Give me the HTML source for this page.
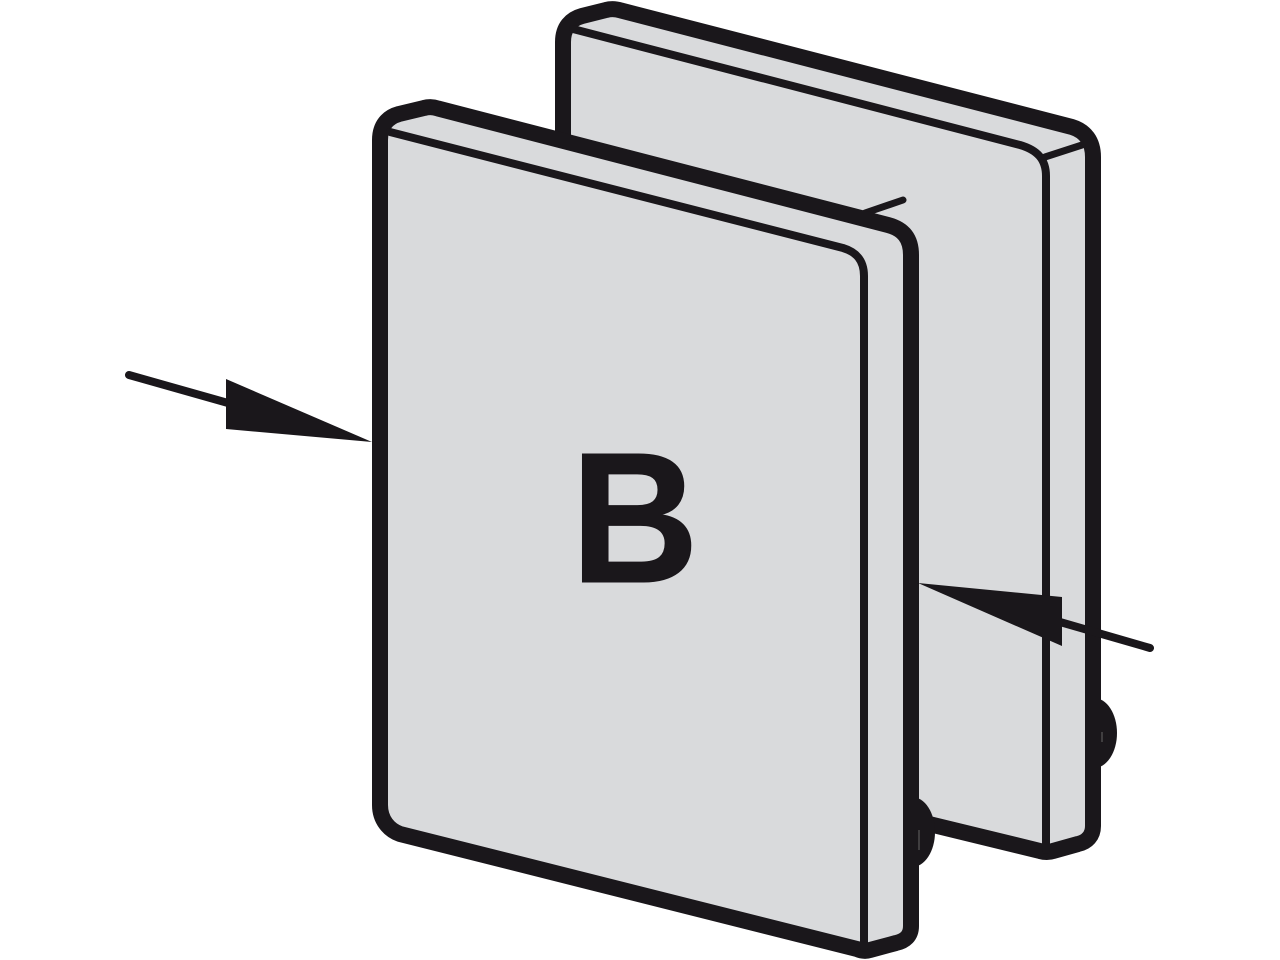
<!DOCTYPE html>
<html>
<head>
<meta charset="utf-8">
<style>
html,body{margin:0;padding:0;background:#fff;width:1280px;height:960px;overflow:hidden}
svg{display:block}
</style>
</head>
<body>
<svg width="1280" height="960" viewBox="0 0 1280 960" xmlns="http://www.w3.org/2000/svg">
<ellipse cx="1094" cy="733" rx="23" ry="35" fill="#1a171b"/>
<g stroke="#1a171b" stroke-linejoin="round" stroke-linecap="round" fill="none">
  <!-- back plate -->
  <path d="M563,42 C563,27 571,19 582,16 L606,10 Q613,8 621,10.500 L1072,127 C1085,131 1093,141 1093,157 L1093,826 C1093,836 1087,842 1078,844 L1053,851 Q1047,853 1040,851 L925,823 L563,730 Z" fill="#d9dadc" stroke="none"/>
  <path d="M563,200 L563,42 C563,27 571,19 582,16 L606,10 Q613,8 621,10.500 L1072,127 C1085,131 1093,141 1093,157 L1093,826 C1093,836 1087,842 1078,844 L1053,851 Q1047,853 1040,851 L925,823" stroke-width="16"/>
  <path d="M573,29 L1020,145 C1037,150 1046,159 1046,176 L1046,850" stroke-width="8"/>
  <path d="M1045,157 L1082,145" stroke-width="7"/>
  <path d="M865,213 L903,200" stroke-width="7"/>
  <ellipse cx="912" cy="832" rx="23" ry="35" fill="#1a171b" stroke="none"/>
  <!-- front plate -->
  <path d="M380,140 C380,125 388,117 399,114 L424,108 Q431,106 438,108.500 L888,225 C903,229 911,238 911,255 L911,926 C911,936 905,941 896,943 L870,950 Q864,952 857,949 L400,834 C389,830 380,820 380,805 Z" fill="#d9dadc" stroke-width="16"/>
  <path d="M390,132 L843,248 C856,252 864,260 864,276 L864,948" stroke-width="8"/>
  <!-- arrows -->
  <path d="M129,375 L228,403" stroke-width="8"/>
  <path d="M1060,622 L1150,648" stroke-width="8"/>
</g>
<path d="M919,830 L919,850 M1102,732 L1102,742" stroke="#666" stroke-width="1" fill="none"/>
<polygon points="226,379 372,442 226,429" fill="#1a171b"/>
<polygon points="918,583 1062,597 1062,646" fill="#1a171b"/>
<text x="570" y="582" transform="translate(583 0) scale(.955 1) translate(-583 0)" font-family="'Liberation Sans',sans-serif" font-weight="700" font-size="186" fill="#1a171b" stroke="#1a171b" stroke-width="1">B</text>
</svg>
</body>
</html>
